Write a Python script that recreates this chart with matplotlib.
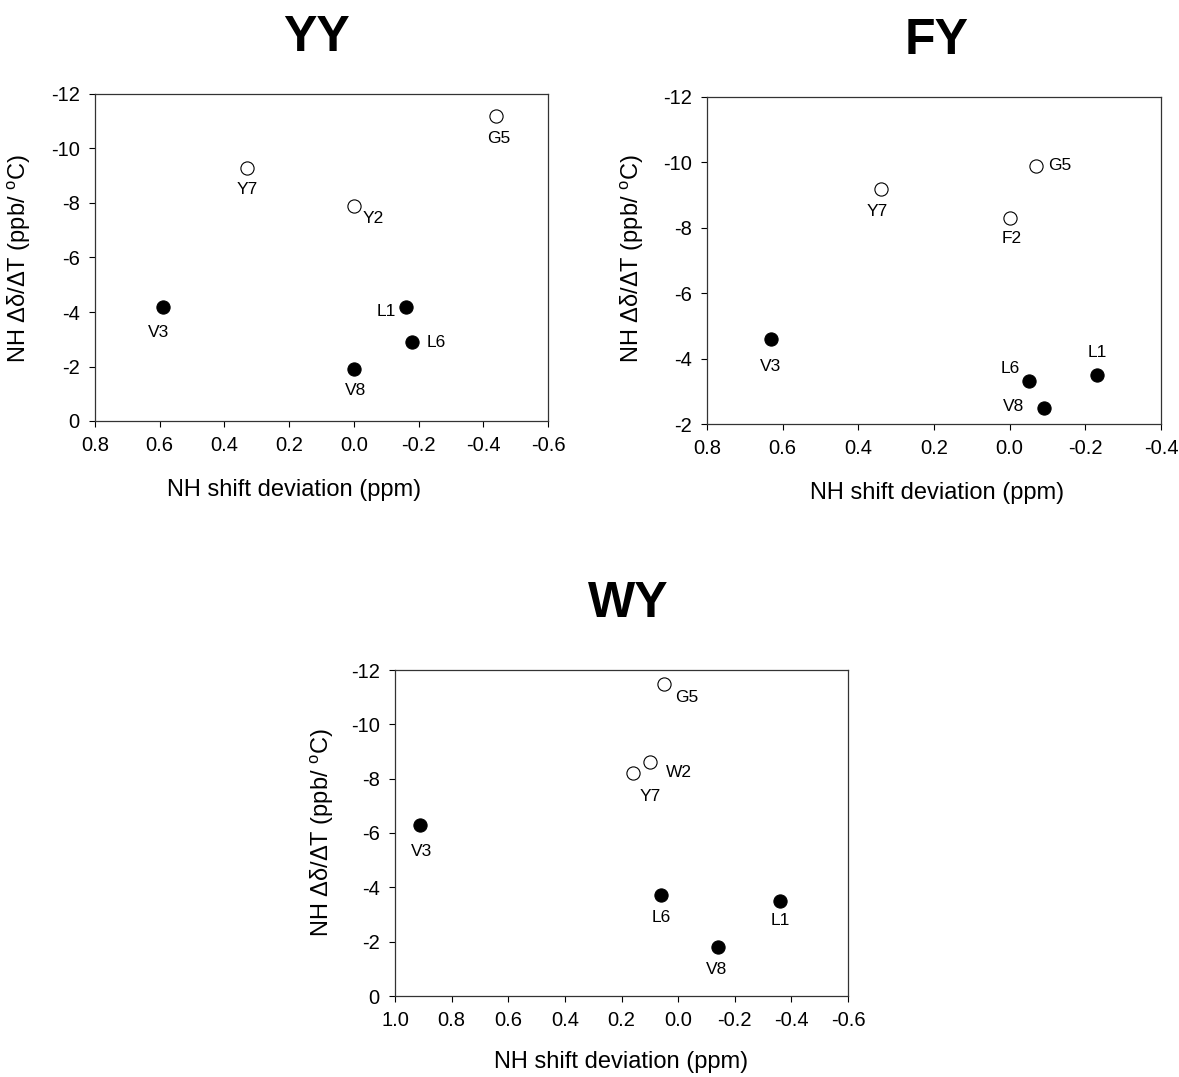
import matplotlib
matplotlib.use("Agg")
import matplotlib.pyplot as plt

plt.rcParams['font.family'] = ['Liberation Sans', 'DejaVu Sans']
plt.rcParams['mathtext.fontset'] = 'custom'
plt.rcParams['mathtext.rm'] = 'Liberation Sans'

# ---------------- data ----------------
yy_labels = ["V3", "Y7", "Y2", "G5", "L1", "L6", "V8"]
yy_x = [0.59, 0.33, 0.00, -0.44, -0.16, -0.18, 0.00]
yy_y = [-4.2, -9.3, -7.9, -11.2, -4.2, -2.9, -1.9]
yy_filled = [True, False, False, False, True, True, True]

fy_labels = ["V3", "Y7", "F2", "G5", "L6", "V8", "L1"]
fy_x = [0.63, 0.34, 0.00, -0.07, -0.05, -0.09, -0.23]
fy_y = [-4.6, -9.2, -8.3, -9.9, -3.3, -2.5, -3.5]
fy_filled = [True, False, False, False, True, True, True]

wy_labels = ["V3", "Y7", "W2", "G5", "L6", "V8", "L1"]
wy_x = [0.91, 0.16, 0.10, 0.05, 0.06, -0.14, -0.36]
wy_y = [-6.3, -8.2, -8.6, -11.5, -3.7, -1.8, -3.5]
wy_filled = [True, False, False, False, True, True, True]

yy_xticks = [0.8, 0.6, 0.4, 0.2, 0.0, -0.2, -0.4, -0.6]
yy_xticklabels = ["0.8", "0.6", "0.4", "0.2", "0.0", "-0.2", "-0.4", "-0.6"]
yy_yticks = [0, -2, -4, -6, -8, -10, -12]
yy_yticklabels = ["0", "-2", "-4", "-6", "-8", "-10", "-12"]

fy_xticks = [0.8, 0.6, 0.4, 0.2, 0.0, -0.2, -0.4]
fy_xticklabels = ["0.8", "0.6", "0.4", "0.2", "0.0", "-0.2", "-0.4"]
fy_yticks = [-2, -4, -6, -8, -10, -12]
fy_yticklabels = ["-2", "-4", "-6", "-8", "-10", "-12"]

wy_xticks = [1.0, 0.8, 0.6, 0.4, 0.2, 0.0, -0.2, -0.4, -0.6]
wy_xticklabels = ["1.0", "0.8", "0.6", "0.4", "0.2", "0.0", "-0.2", "-0.4", "-0.6"]
wy_yticks = [0, -2, -4, -6, -8, -10, -12]
wy_yticklabels = ["0", "-2", "-4", "-6", "-8", "-10", "-12"]

# label offsets in pixels (dx right, dy up)
yy_offsets = [(-4, -26), (0, -22), (19, -13), (3, -23), (-19, -5), (24, -1), (2, -21)]
fy_offsets = [(-1, -28), (-4, -23), (2, -21), (24, 0), (-18, 13), (-30, 1), (1, 22)]
wy_offsets = [(1, -27), (17, -23), (29, -10), (23, -14), (0, -22), (-1, -22), (0, -20)]

xlabel = "NH shift deviation (ppm)"
ylabel = "NH \u0394\u03b4/\u0394T (ppb/ $^{\\mathrm{o}}$C)"

W, H = 1179, 1077
fig = plt.figure(figsize=(W / 100, H / 100), dpi=100)


def px_axes(l, t, r, b):
    return fig.add_axes([l / W, 1 - b / H, (r - l) / W, (b - t) / H])


def panel(ax, box, xs, ys, filled, labels, offsets, xlim, ylim, xt, xtl, yt, ytl,
          xlab_px, ylab_px):
    l, t, r, b = box
    for x, y, f, lab, off in zip(xs, ys, filled, labels, offsets):
        ax.plot([x], [y], 'o', ms=9.5, mfc='black' if f else 'white',
                mec='black', mew=0.8, clip_on=False)
        ax.annotate(lab, (x, y), xytext=off, textcoords='offset pixels',
                    ha='center', va='center', fontsize=12.5)
    ax.set_xlim(*xlim)
    ax.set_ylim(*ylim)
    ax.set_xticks(xt)
    ax.set_xticklabels(xtl)
    ax.set_yticks(yt)
    ax.set_yticklabels(ytl)
    ax.tick_params(direction='out', length=4, width=0.8, labelsize=14.5,
                   pad=7, top=False, right=False)
    for s in ax.spines.values():
        s.set_linewidth(0.9)
        s.set_color('#333333')
    ax.set_xlabel(xlabel, fontsize=17)
    ax.set_ylabel(ylabel, fontsize=17)
    # place axis labels at measured pixel centres
    xl_x, xl_y = xlab_px
    ax.xaxis.set_label_coords((xl_x - l) / (r - l), -(xl_y - b) / (b - t))
    ax.xaxis.label.set_va('center')
    yl_x, yl_y = ylab_px
    ax.yaxis.set_label_coords((yl_x - l) / (r - l), (b - yl_y) / (b - t))
    ax.yaxis.label.set_va('center')


box1 = (95, 94, 548, 421)
ax1 = px_axes(*box1)
panel(ax1, box1, yy_x, yy_y, yy_filled, yy_labels, yy_offsets, (0.8, -0.6), (0, -12),
      yy_xticks, yy_xticklabels, yy_yticks, yy_yticklabels, (294, 490), (19, 258))

box2 = (707, 97, 1161, 424)
ax2 = px_axes(*box2)
panel(ax2, box2, fy_x, fy_y, fy_filled, fy_labels, fy_offsets, (0.8, -0.4), (-2, -12),
      fy_xticks, fy_xticklabels, fy_yticks, fy_yticklabels, (937, 493), (632, 258))

box3 = (395, 670, 848, 996)
ax3 = px_axes(*box3)
panel(ax3, box3, wy_x, wy_y, wy_filled, wy_labels, wy_offsets, (1.0, -0.6), (0, -12),
      wy_xticks, wy_xticklabels, wy_yticks, wy_yticklabels, (621, 1062), (322, 832))

fig.text(316 / W, 1 - 38 / H, "YY", fontsize=36, fontweight='bold', ha='center', va='center')
fig.text(937 / W, 1 - 41 / H, "FY", fontsize=36, fontweight='bold', ha='center', va='center')
fig.text(628 / W, 1 - 604 / H, "WY", fontsize=36, fontweight='bold', ha='center', va='center')

fig.savefig("out.png", dpi=100, facecolor='white')
